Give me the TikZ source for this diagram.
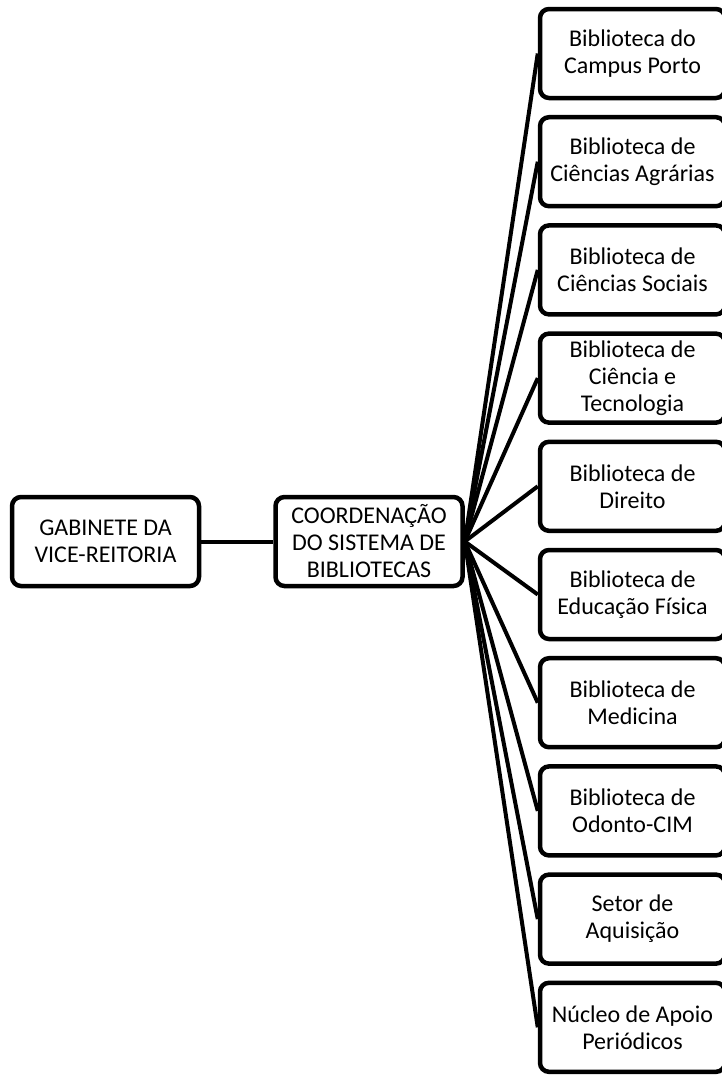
\documentclass[tikz,border=0pt]{standalone}
\usepackage{fontspec}
\setmainfont{Carlito}
\begin{document}
\begin{tikzpicture}[x=1pt,y=-1pt,
  box/.style={draw=black, line width=4.5pt, rounded corners=9pt, fill=white,
    align=center, inner sep=0pt, minimum height=89pt,
    font=\fontsize{24}{27}\selectfont},
  leftbox/.style={box, minimum width=187pt},
  rightbox/.style={box, minimum width=185pt},
  link/.style={line width=4pt}]
\useasboundingbox (0,0) rectangle (721,1077);
\node[leftbox] (gab) at (105.5,541.5) {GABINETE DA\\VICE-REITORIA};
\node[leftbox] (coord) at (369,541.5) {COORDENAÇÃO\\DO SISTEMA DE\\BIBLIOTECAS};
\foreach \i/\t in {0/{Biblioteca do\\Campus Porto},
                   1/{Biblioteca de\\Ciências Agrárias},
                   2/{Biblioteca de\\Ciências Sociais},
                   3/{Biblioteca de\\Ciência e\\Tecnologia},
                   4/{Biblioteca de\\Direito},
                   5/{Biblioteca de\\Educação Física},
                   6/{Biblioteca de\\Medicina},
                   7/{Biblioteca de\\Odonto-CIM},
                   8/{Setor de\\Aquisição},
                   9/{Núcleo de Apoio\\Periódicos}} {
  \node[rightbox] (r\i) at (632.5,{53.5+108.2*\i}) {\t};
}
\draw[link] (gab.east) -- (coord.west);
\foreach \i in {0,...,9} {
  \draw[link] (coord.east) -- (r\i.west);
}
\end{tikzpicture}
\end{document}
